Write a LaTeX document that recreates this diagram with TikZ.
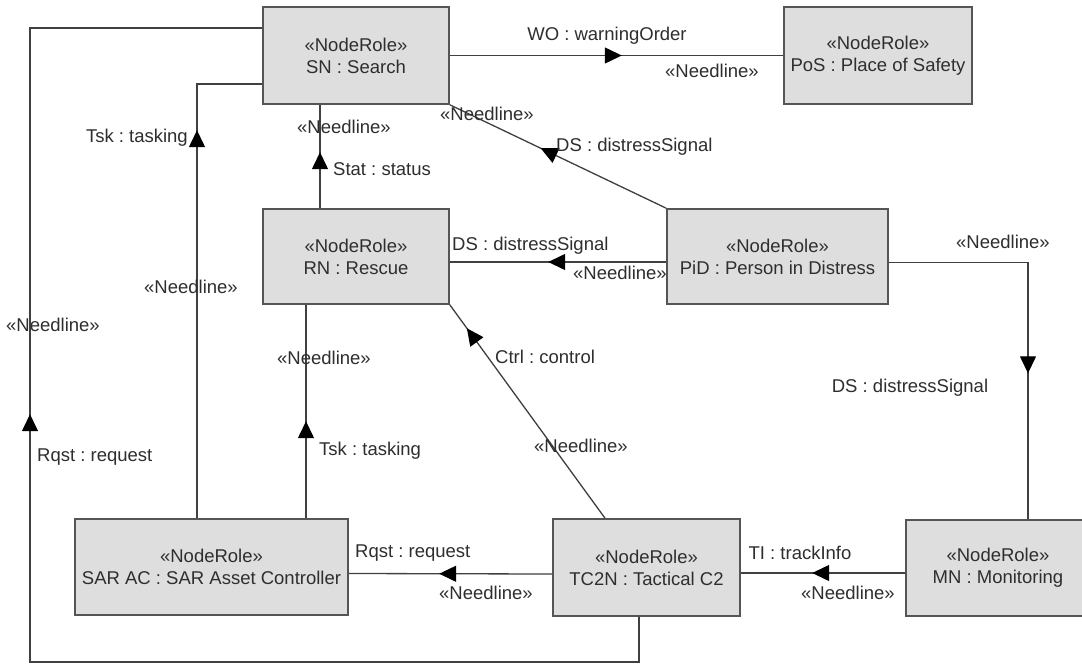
\documentclass[tikz,border=0pt]{standalone}
\usepackage{fontspec}
\setmainfont{Liberation Sans}
\usetikzlibrary{arrows.meta,decorations.markings}
\definecolor{boxfill}{HTML}{DEDEDE}
\definecolor{boxline}{HTML}{555555}
\definecolor{linecol}{HTML}{404040}
\definecolor{txt}{HTML}{2E2E2E}
\frenchspacing
\tikzset{
  role/.style={draw=boxline, fill=boxfill, line width=1.6pt, align=center, inner sep=0pt,
    text=txt, font=\fontsize{18.5}{22}\selectfont},
  conn/.style={draw=linecol, line width=1.3pt},
  amid/.style={postaction={decorate}, decoration={markings,
    mark=at position #1 with {\arrow{Triangle[length=17pt,width=16pt,color=black]}}}},
  lbl/.style={text=txt, font=\fontsize{18.5}{22}\selectfont, inner sep=0pt},
}
\begin{document}
\begin{tikzpicture}[x=1pt,y=-1pt]
\useasboundingbox (0,0) rectangle (1082,664);
\fill[white] (0,0) rectangle (1082,664);

% nodes
\node[role, minimum width=186, minimum height=97] (SN) at (356,55.5) {«NodeRole»\\SN : Search};
\node[role, minimum width=188, minimum height=97] (PoS) at (878,55.5) {«NodeRole»\\PoS : Place of Safety};
\node[role, minimum width=186, minimum height=95] (RN) at (356,256.5) {«NodeRole»\\RN : Rescue};
\node[role, minimum width=221, minimum height=95] (PiD) at (777.5,256.5) {«NodeRole»\\PiD : Person in Distress};
\node[role, minimum width=273, minimum height=96] (SAR) at (211.5,567) {«NodeRole»\\SAR AC : SAR Asset Controller};
\node[role, minimum width=187, minimum height=97] (TC2N) at (646.5,567.5) {«NodeRole»\\TC2N : Tactical C2};
\node[role, minimum width=184, minimum height=96] (MN) at (998,568) {«NodeRole»\\MN : Monitoring};

% connectors
\draw[conn, amid=172pt] (SN.east) -- (PoS.west);
\draw[conn, amid=902pt] ([xshift=-7.5pt]TC2N.south) |- (30,662) |- ([yshift=27.5pt]SN.west);
\draw[conn, amid=388pt] ([xshift=-14.5pt]SAR.north) |- ([yshift=-28.5pt]SN.west);
\draw[conn, amid=56pt] ([xshift=-36pt]RN.north) -- ([xshift=-36pt]SN.south);
\draw[conn, amid=0.58] (PiD.north west) -- (SN.south east);
\draw[conn, amid=118pt] ([yshift=-5.5pt]PiD.west) -- ([yshift=-5.5pt]RN.east);
\draw[conn, amid=250pt] ([yshift=-6pt]PiD.east) -| ([xshift=30pt]MN.north);
\draw[conn, amid=93pt] ([yshift=-5pt]MN.west) -- ([yshift=-5.5pt]TC2N.east);
\draw[conn, amid=113pt] ([yshift=-6.5pt]TC2N.west) -- ([yshift=-6.5pt]SAR.east);
\draw[conn, amid=97pt] ([xshift=94.5pt]SAR.north) -- ([xshift=-50pt]RN.south);
\draw[conn, amid=0.89] ([xshift=-41.5pt]TC2N.north) -- (RN.south east);

% labels
\node[lbl] (l1) at (607,36) {WO : warningOrder};
\node[lbl] (l2) at (712,71) {«Needline»};
\node[lbl] (l3) at (53,325) {«Needline»};
\node[lbl, anchor=west] (l4) at (37,457) {Rqst : request};
\node[lbl, anchor=east] (l5) at (188,138) {Tsk : tasking};
\node[lbl] (l6) at (191,287) {«Needline»};
\node[lbl] (l7) at (344,127) {«Needline»};
\node[lbl, anchor=west] (l8) at (333,169) {Stat : status};
\node[lbl] (l9) at (487,114) {«Needline»};
\node[lbl, anchor=west] (l10) at (556,147) {DS : distressSignal};
\node[lbl, anchor=west] (l11) at (452,246) {DS : distressSignal};
\node[lbl] (l12) at (620,273) {«Needline»};
\node[lbl] (l13) at (1003,242) {«Needline»};
\node[lbl] (l14) at (910,388) {DS : distressSignal};
\node[lbl] (l15) at (800,553) {TI : trackInfo};
\node[lbl] (l16) at (848,593) {«Needline»};
\node[lbl, anchor=west] (l17) at (355,553) {Rqst : request};
\node[lbl] (l18) at (486,593) {«Needline»};
\node[lbl] (l19) at (324,358) {«Needline»};
\node[lbl, anchor=west] (l20) at (319,451) {Tsk : tasking};
\node[lbl, anchor=west] (l21) at (495,357) {Ctrl : control};
\node[lbl] (l22) at (581,446) {«Needline»};
\end{tikzpicture}
\end{document}
